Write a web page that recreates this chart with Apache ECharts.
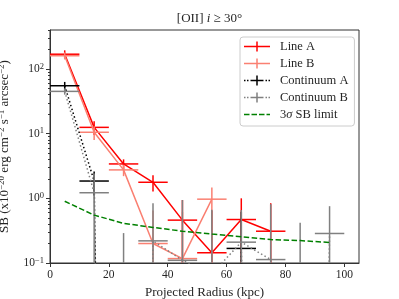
<!DOCTYPE html>
<html><head><meta charset="utf-8">
<script src="https://cdn.jsdelivr.net/npm/echarts@6/dist/echarts.min.js"></script>
<style>html,body{margin:0;padding:0;background:#fff}#c{width:399px;height:299px}</style>
</head><body><div id="c"></div>
<script>
// ---- data ----
const radius = [5, 15, 25, 35, 45, 55, 65, 75, 85, 95];
const binHalfWidth = [5, 5, 5, 5, 5, 5, 5, 5, 5, 5];

const lineA = [169, 12.5, 3.4, 1.77, 0.46, 0.144, 0.47, 0.31, null, null];
const lineAErrLow = [25, 3, 0.6, 0.5, 0.48, 0.5, 0.53, 0.53, null, null];
const lineAErrHigh = [25, 3, 0.6, 0.5, 0.48, 0.5, 0.53, 0.53, null, null];

const lineB = [160, 10.5, 2.75, 0.2, 0.117, 0.97, null, null, null, null];
const lineBErrLow = [20, 2.5, 0.55, 0.45, 0.5, 1.1, null, null, null, null];
const lineBErrHigh = [20, 2.5, 0.55, 0.45, 0.5, 0.5, null, null, null, null];

const contA = [55, 1.85, -0.3, -0.2, -0.2, -0.1, 0.168, -0.15, null, null];
const contAErr = [8, 0.75, 0.3, 0.3, 0.3, 0.2, 0.45, 0.2, null, null];

const contB = [45, 1.22, -0.05, 0.22, 0.11, 0.068, 0.21, 0.113, -0.05, 0.286];
const contBErr = [5, 1.2, 0.34, 0.62, 0.83, 0.6, 0.45, 0.7, 0.47, 0.47];

const sbLimit = [0.9, 0.55, 0.41, 0.355, 0.31, 0.28, 0.255, 0.23, 0.222, 0.208];

const xTickValues = [0, 20, 40, 60, 80, 100];
const yTickValues = [0.1, 1, 10, 100];
const yMinorTickValues = [0.2,0.3,0.4,0.5,0.6,0.7,0.8,0.9,2,3,4,5,6,7,8,9,20,30,40,50,60,70,80,90,200,300,400];

const seriesNames = ['Line A', 'Line B', 'Continuum A', 'Continuum B', '3σ SB limit'];
const seriesColors = ['#ff0000', '#fa8072', '#000000', '#808080', '#008000'];

// ---- helpers ----
const FONT = 'Liberation Serif';
const TXT = '#262626';
const Y_MIN = 0.1, Y_MAX = 400, X_MIN = 0, X_MAX = 105;
const LOG_FLOOR = 1e-30; // non-positive values clipped like a log plot does

function lineData(vals) {
  const out = [];
  vals.forEach((v, i) => { if (v !== null) out.push([radius[i], v > 0 ? v : LOG_FLOOR]); });
  return out;
}
function errData(vals, lo, hi) {
  const out = [];
  vals.forEach((v, i) => { if (v !== null) out.push([radius[i], v, lo[i], hi[i], binHalfWidth[i]]); });
  return out;
}
function errRender(color) {
  return function (params, api) {
    const x = api.value(0), y = api.value(1), lo = api.value(2), hi = api.value(3), xe = api.value(4);
    const cs = params.coordSys;
    const top = cs.y, bot = cs.y + cs.height;
    const px = v => (v > 0 ? api.coord([x, v])[1] : Infinity);
    const cx = api.coord([x, 1])[0];
    const children = [];
    let yHi = Math.max(top, px(y + hi));
    let yLo = Math.min(bot, px(y - lo));
    if (yHi < yLo) {
      children.push({ type: 'line', shape: { x1: cx, y1: yLo, x2: cx, y2: yHi }, style: { stroke: color, lineWidth: 1.5 } });
    }
    if (y >= Y_MIN && y <= Y_MAX) {
      const py = px(y);
      const x1 = api.coord([x - xe, y])[0], x2 = api.coord([x + xe, y])[0];
      children.push({ type: 'line', shape: { x1: x1, y1: py, x2: x2, y2: py }, style: { stroke: color, lineWidth: 1.5 } });
    }
    return { type: 'group', children: children };
  };
}
function sup(e) { return (e < 0 ? '\u2212' : '') + Math.abs(e); }

const crossIcon = 'path://M0 4.25H26V5.75H0Z M12.25 0H13.75V10H12.25Z';
const dottedCrossIcon = 'path://M0 4.25H1.5V5.75H0Z M3 4.25H4.5V5.75H3Z M6.5 4.25H19.5V5.75H6.5Z M21.5 4.25H23V5.75H21.5Z M24.5 4.25H26V5.75H24.5Z M12.25 0H13.75V10H12.25Z';
const dashedIcon = 'path://M0 0L0.01 0Z M0 10L0.01 10Z M0 4.25H5.5V5.75H0Z M7.5 4.25H13V5.75H7.5Z M15 4.25H20.5V5.75H15Z M22.5 4.25H26V5.75H22.5Z';

const series = [];
const vals = [lineA, lineB, contA, contB];
const lows = [lineAErrLow, lineBErrLow, contAErr, contBErr];
const highs = [lineAErrHigh, lineBErrHigh, contAErr, contBErr];
for (let k = 0; k < 4; k++) {
  series.push({
    name: seriesNames[k], type: 'line', data: lineData(vals[k]), symbol: 'none', silent: true,
    color: seriesColors[k],
    lineStyle: { color: seriesColors[k], width: 1.5, type: k < 2 ? 'solid' : [1.5, 2.5] },
    z: 2 + k * 2, clip: true
  });
  series.push({
    name: seriesNames[k], type: 'custom', renderItem: errRender(seriesColors[k]),
    data: errData(vals[k], lows[k], highs[k]), encode: { x: 0, y: 1 }, silent: true,
    color: seriesColors[k], z: 3 + k * 2, clip: true
  });
}
series.push({
  name: seriesNames[4], type: 'line', data: lineData(sbLimit), symbol: 'none', silent: true,
  color: seriesColors[4],
  lineStyle: { color: seriesColors[4], width: 1.5, type: [5.5, 2.5] }, z: 12
});

const option = {
  animation: false,
  backgroundColor: '#ffffff',
  title: {
    text: '[OII] {i|i} \u2265 30\u00b0', left: 204.5, top: 7, textAlign: 'center',
    textStyle: { fontFamily: FONT, fontSize: 13, fontWeight: 'normal', color: TXT,
      rich: { i: { fontFamily: FONT, fontSize: 13, fontStyle: 'italic', color: TXT } } }
  },
  grid: { left: 50, right: 40, top: 30, bottom: 36, show: true, borderColor: '#333', borderWidth: 1,
    containLabel: false, outerBoundsMode: 'none' },
  legend: {
    orient: 'vertical', left: 240, top: 37, padding: [3, 6, 5, 4], itemGap: 4,
    itemWidth: 26, itemHeight: 10,
    backgroundColor: 'rgba(255,255,255,0.8)', borderColor: '#cccccc', borderWidth: 1, borderRadius: 3,
    itemStyle: { borderWidth: 0 },
    textStyle: { fontFamily: FONT, fontSize: 12.5, color: TXT, padding: [0, 0, 0, 5],
      rich: { i: { fontFamily: FONT, fontSize: 12.5, fontStyle: 'italic', color: TXT } } },
    formatter: n => n.replace('\u03c3', '{i|\u03c3}'),
    selectedMode: false,
    data: [
      { name: seriesNames[0], icon: crossIcon, itemStyle: { color: seriesColors[0] } },
      { name: seriesNames[1], icon: crossIcon, itemStyle: { color: seriesColors[1] } },
      { name: seriesNames[2], icon: dottedCrossIcon, itemStyle: { color: seriesColors[2] } },
      { name: seriesNames[3], icon: dottedCrossIcon, itemStyle: { color: seriesColors[3] } },
      { name: seriesNames[4], icon: dashedIcon, itemStyle: { color: seriesColors[4] } }
    ]
  },
  xAxis: {
    type: 'value', min: X_MIN, max: X_MAX,
    name: 'Projected Radius (kpc)', nameLocation: 'middle', nameGap: 17,
    nameTextStyle: { fontFamily: FONT, fontSize: 13, color: TXT },
    axisLine: { show: true, lineStyle: { color: '#333', width: 1 } },
    axisTick: { show: true, length: 4, customValues: xTickValues, lineStyle: { color: '#333' } },
    axisLabel: { customValues: xTickValues, margin: 6, fontFamily: FONT, fontSize: 11.5, color: TXT },
    splitLine: { show: false }
  },
  yAxis: [{
    type: 'log', logBase: 10, min: Y_MIN, max: Y_MAX,
    name: 'SB (x10{s|\u221220} erg cm{s|\u22122} s{s|\u22121} arcsec{s|\u22122})',
    nameLocation: 'middle', nameRotate: 90, nameGap: 34,
    nameTextStyle: { fontFamily: FONT, fontSize: 13, color: TXT, lineHeight: 15,
      rich: { s: { fontFamily: FONT, fontSize: 9, color: TXT, verticalAlign: 'top', lineHeight: 15 } } },
    axisLine: { show: true, lineStyle: { color: '#333', width: 1 } },
    axisTick: { show: true, length: 4, customValues: yTickValues, lineStyle: { color: '#333' } },
    axisLabel: {
      customValues: yTickValues, margin: 6,
      formatter: v => '{b|10}{s|' + sup(Math.round(Math.log10(v))) + '}',
      rich: { b: { fontFamily: FONT, fontSize: 11.5, color: TXT, lineHeight: 14 },
              s: { fontFamily: FONT, fontSize: 8.5, color: TXT, verticalAlign: 'top', lineHeight: 14 } }
    },
    splitLine: { show: false }
  }, {
    type: 'log', logBase: 10, min: Y_MIN, max: Y_MAX, position: 'left',
    axisLine: { show: false },
    axisTick: { show: true, length: 2, customValues: yMinorTickValues, lineStyle: { color: '#333' } },
    axisLabel: { show: false, customValues: yMinorTickValues },
    splitLine: { show: false }
  }],
  series: series
};
const chart = echarts.init(document.getElementById('c'), null, { renderer: 'canvas' });
chart.setOption(option);
</script>
</body></html>
